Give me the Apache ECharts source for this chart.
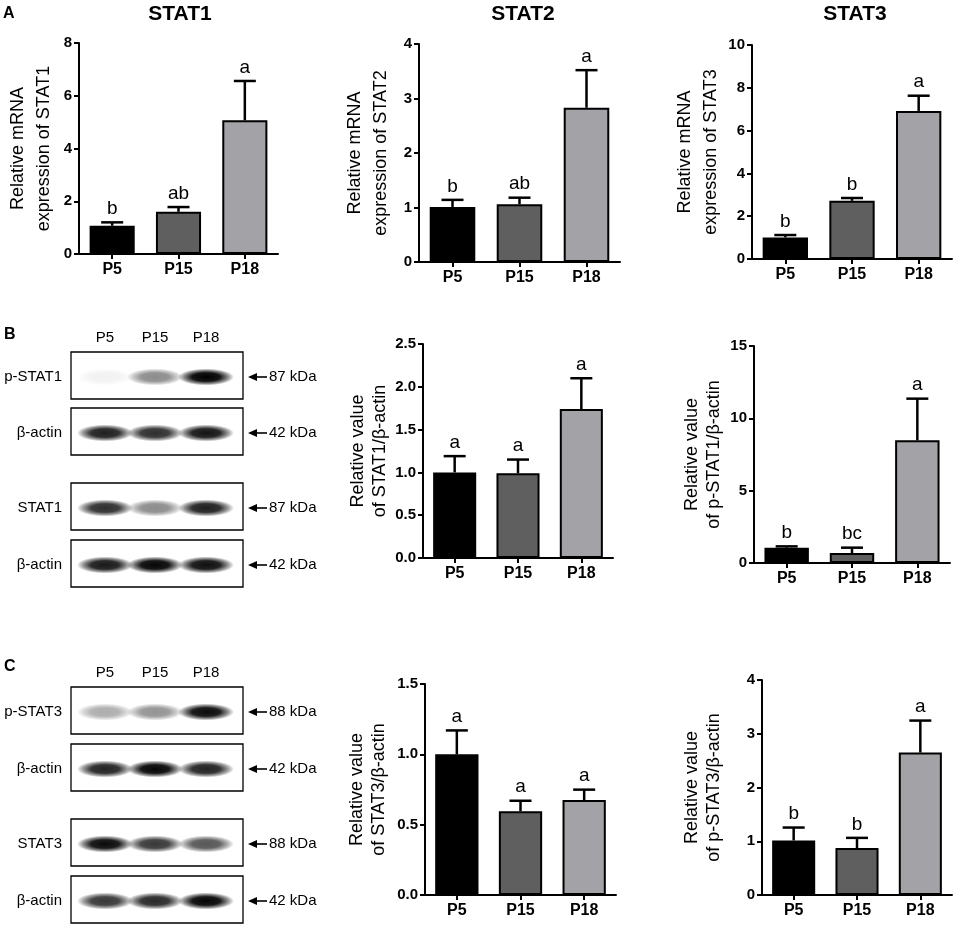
<!DOCTYPE html>
<html><head><meta charset="utf-8">
<script src="https://cdn.jsdelivr.net/npm/echarts@6/dist/echarts.min.js"></script>
<style>html,body{margin:0;padding:0;background:#fff}#c{width:957px;height:927px}</style>
</head><body><div id="c"></div>
<script>
// ---------- data ----------
const categories = ['P5', 'P15', 'P18'];

const stat1Mrna = [1.07, 1.60, 5.07];
const stat1MrnaSem = [0.13, 0.18, 1.49];
const stat1MrnaSig = ['b', 'ab', 'a'];

const stat2Mrna = [1.01, 1.06, 2.83];
const stat2MrnaSem = [0.13, 0.12, 0.69];
const stat2MrnaSig = ['b', 'ab', 'a'];

const stat3Mrna = [1.01, 2.72, 6.92];
const stat3MrnaSem = [0.11, 0.13, 0.71];
const stat3MrnaSig = ['b', 'b', 'a'];

const stat1Ratio = [1.00, 0.99, 1.74];
const stat1RatioSem = [0.19, 0.16, 0.36];
const stat1RatioSig = ['a', 'a', 'a'];

const pStat1Ratio = [1.06, 0.69, 8.48];
const pStat1RatioSem = [0.09, 0.37, 2.88];
const pStat1RatioSig = ['b', 'bc', 'a'];

const stat3Ratio = [1.00, 0.595, 0.675];
const stat3RatioSem = [0.17, 0.075, 0.074];
const stat3RatioSig = ['a', 'a', 'a'];

const pStat3Ratio = [1.015, 0.873, 2.65];
const pStat3RatioSem = [0.24, 0.19, 0.595];
const pStat3RatioSig = ['b', 'b', 'a'];

const panelTitles = ['STAT1', 'STAT2', 'STAT3'];
const panelLetters = ['A', 'B', 'C'];

// blot contents (relative band intensity, 0..1)
const blotBRows = ['p-STAT1', 'β-actin', 'STAT1', 'β-actin'];
const blotBKda = ['87 kDa', '42 kDa', '87 kDa', '42 kDa'];
const blotBIntensity = [[0.05, 0.45, 1.0], [0.88, 0.82, 0.92], [0.82, 0.45, 0.88], [0.9, 0.98, 0.94]];
const blotCRows = ['p-STAT3', 'β-actin', 'STAT3', 'β-actin'];
const blotCKda = ['88 kDa', '42 kDa', '88 kDa', '42 kDa'];
const blotCIntensity = [[0.32, 0.42, 0.96], [0.86, 0.98, 0.86], [0.96, 0.78, 0.66], [0.78, 0.84, 0.98]];

// ---------- styling / layout ----------
const FONT = "'Liberation Sans', Arial, Helvetica, sans-serif";
const barColors = ['#000000', '#5f5f5f', '#a2a2a7'];

const panels = [
  { mean: stat1Mrna, sem: stat1MrnaSem, sig: stat1MrnaSig, max: 8, interval: 2, dec: 0,
    name: 'Relative mRNA\nexpression of STAT1', grid: { left: 79, top: 43, width: 199, height: 211 }, gap: 22, lh: 26 },
  { mean: stat2Mrna, sem: stat2MrnaSem, sig: stat2MrnaSig, max: 4, interval: 1, dec: 0,
    name: 'Relative mRNA\nexpression of STAT2', grid: { left: 419, top: 44, width: 201, height: 218 }, gap: 25, lh: 26 },
  { mean: stat3Mrna, sem: stat3MrnaSem, sig: stat3MrnaSig, max: 10, interval: 2, dec: 0,
    name: 'Relative mRNA\nexpression of STAT3', grid: { left: 752, top: 45, width: 200, height: 214 }, gap: 28, lh: 26 },
  { mean: stat1Ratio, sem: stat1RatioSem, sig: stat1RatioSig, max: 2.5, interval: 0.5, dec: 1,
    name: 'Relative value\nof STAT1/β-actin', grid: { left: 423, top: 344, width: 190, height: 214 }, gap: 32, lh: 22 },
  { mean: pStat1Ratio, sem: pStat1RatioSem, sig: pStat1RatioSig, max: 15, interval: 5, dec: 0,
    name: 'Relative value\nof p-STAT1/β-actin', grid: { left: 754, top: 346, width: 196, height: 217 }, gap: 29, lh: 22 },
  { mean: stat3Ratio, sem: stat3RatioSem, sig: stat3RatioSig, max: 1.5, interval: 0.5, dec: 1,
    name: 'Relative value\nof STAT3/β-actin', grid: { left: 425, top: 684, width: 191, height: 211 }, gap: 35, lh: 22 },
  { mean: pStat3Ratio, sem: pStat3RatioSem, sig: pStat3RatioSig, max: 4, interval: 1, dec: 0,
    name: 'Relative value\nof p-STAT3/β-actin', grid: { left: 762, top: 680, width: 190, height: 215 }, gap: 37, lh: 22 }
];

const axisLine = { show: true, lineStyle: { color: '#000', width: 2 } };
const axisTick = { show: true, length: 5, lineStyle: { color: '#000', width: 2 } };

const grids = [], xAxes = [], yAxes = [], series = [];
panels.forEach((p, i) => {
  grids.push(Object.assign({ outerBoundsMode: 'none', containLabel: false }, p.grid));
  xAxes.push({
    gridIndex: i, type: 'category', data: categories,
    axisLine, axisTick: Object.assign({ alignWithLabel: true }, axisTick),
    axisLabel: { color: '#000', fontWeight: 'bold', fontSize: 16, fontFamily: FONT, margin: 8 },
    splitLine: { show: false }
  });
  yAxes.push({
    gridIndex: i, type: 'value', min: 0, max: p.max, interval: p.interval,
    axisLine, axisTick,
    axisLabel: { color: '#000', fontWeight: 'bold', fontSize: 15, fontFamily: FONT, margin: 7,
      formatter: v => v.toFixed(p.dec) },
    splitLine: { show: false },
    name: p.name, nameLocation: 'middle', nameRotate: 90, nameGap: p.gap, nameMoveOverlap: false,
    nameTextStyle: { color: '#000', fontSize: 18, lineHeight: p.lh, fontFamily: FONT, align: 'center' }
  });
  series.push({
    type: 'bar', xAxisIndex: i, yAxisIndex: i, barWidth: '68%', silent: true,
    data: p.mean.map((v, j) => ({ value: v, itemStyle: { color: barColors[j] } })),
    itemStyle: { borderColor: '#000', borderWidth: 2 }
  });
  series.push({
    type: 'custom', xAxisIndex: i, yAxisIndex: i, silent: true, z: 5,
    data: p.mean.map((v, j) => [j, v, v + p.sem[j]]),
    renderItem: (params, api) => {
      const x = api.value(0);
      const p0 = api.coord([x, api.value(1)]);
      const p1 = api.coord([x, api.value(2)]);
      const half = 11;
      return {
        type: 'group', children: [
          { type: 'line', shape: { x1: p0[0], y1: p0[1], x2: p1[0], y2: p1[1] }, style: { stroke: '#000', lineWidth: 2.5 } },
          { type: 'line', shape: { x1: p1[0] - half, y1: p1[1], x2: p1[0] + half, y2: p1[1] }, style: { stroke: '#000', lineWidth: 2.5 } },
          { type: 'text', x: p1[0], y: p1[1] - 4,
            style: { text: p.sig[params.dataIndex], fill: '#000', fontSize: 19, fontFamily: FONT,
              align: 'center', verticalAlign: 'bottom', textAlign: 'center', textVerticalAlign: 'bottom' } }
        ]
      };
    }
  });
});

// ---------- graphic: titles, letters, blots ----------
function txt(x, y, text, opt) {
  const o = Object.assign({ size: 14, weight: 'normal', align: 'center', va: 'middle' }, opt || {});
  return { type: 'text', x, y, silent: true,
    style: { text, fill: '#000', fontSize: o.size, fontWeight: o.weight, fontFamily: FONT,
      align: o.align, verticalAlign: o.va, textAlign: o.align, textVerticalAlign: o.va } };
}
function band(a) {
  return { type: 'radial', x: 0.5, y: 0.5, r: 0.5, colorStops: [
    { offset: 0, color: 'rgba(0,0,0,' + a + ')' },
    { offset: 0.5, color: 'rgba(0,0,0,' + (a * 0.92) + ')' },
    { offset: 0.78, color: 'rgba(0,0,0,' + (a * 0.45) + ')' },
    { offset: 1, color: 'rgba(0,0,0,0)' } ] };
}
function blot(rows, kda, intensity, boxTops, laneY) {
  const els = [];
  const bx = 71, bw = 172, bh = 47;
  const laneX = [105, 155, 206];
  categories.forEach((c, j) => els.push(txt(laneX[j], laneY, c, { size: 15 })));
  rows.forEach((r, i) => {
    const top = boxTops[i], cy = top + bh / 2 + 1.5;
    els.push({ type: 'rect', silent: true, shape: { x: bx, y: top, width: bw, height: bh },
      style: { fill: '#fff', stroke: '#000', lineWidth: 1.3 } });
    intensity[i].forEach((a, j) => els.push({ type: 'circle', silent: true, x: laneX[j], y: cy,
      scaleX: 3.3, scaleY: 1, shape: { cx: 0, cy: 0, r: 8.5 }, style: { fill: band(a) } }));
    els.push(txt(62, cy, r, { size: 15, align: 'right' }));
    els.push({ type: 'line', silent: true, shape: { x1: 253, y1: cy, x2: 267, y2: cy }, style: { stroke: '#000', lineWidth: 1.6 } });
    els.push({ type: 'polygon', silent: true, shape: { points: [[248, cy], [257, cy - 4], [257, cy + 4]] }, style: { fill: '#000' } });
    els.push(txt(269, cy, kda[i], { size: 15, align: 'left' }));
  });
  return els;
}

const graphics = [
  txt(180, 14, panelTitles[0], { size: 21, weight: 'bold' }),
  txt(523, 14, panelTitles[1], { size: 21, weight: 'bold' }),
  txt(855, 14, panelTitles[2], { size: 21, weight: 'bold' }),
  txt(3, 14, panelLetters[0], { size: 16, weight: 'bold', align: 'left' }),
  txt(4, 335, panelLetters[1], { size: 16, weight: 'bold', align: 'left' }),
  txt(4, 667, panelLetters[2], { size: 16, weight: 'bold', align: 'left' })
].concat(
  blot(blotBRows, blotBKda, blotBIntensity, [352, 408, 483, 540], 338),
  blot(blotCRows, blotCKda, blotCIntensity, [687, 744, 819, 876], 673)
);

const chart = echarts.init(document.getElementById('c'), null, { renderer: 'canvas' });
chart.setOption({
  backgroundColor: '#fff',
  animation: false,
  grid: grids, xAxis: xAxes, yAxis: yAxes, series,
  graphic: { elements: graphics }
});
</script></body></html>
